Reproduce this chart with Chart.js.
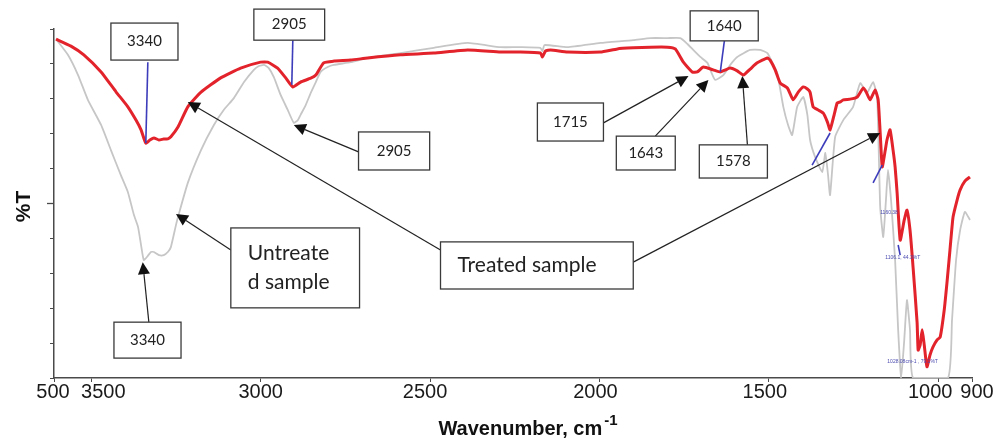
<!DOCTYPE html>
<html>
<head>
<meta charset="utf-8">
<script src="https://cdn.jsdelivr.net/npm/chart.js@4.4.1/dist/chart.umd.min.js"></script>
<style>
  html, body { margin: 0; padding: 0; background: #ffffff; }
  #wrap { width: 1000px; height: 439px; position: relative; }
</style>
</head>
<body>
<div id="wrap"><canvas id="c"></canvas></div>
<script>
// ---------------- DATA ----------------
const xTickValues = [3610, 3500, 3000, 2500, 2000, 1500, 1000, 900];
const xTickLabels = ['500', '3500', '3000', '2500', '2000', '1500', '1000', '900'];

// Treated sample (red)
const treatedWavenumber = [3604,3560,3522,3471,3427,3392,3368,3353,3339,3327,3315,3300,3286,3274,3265,3244,3215,3176,3118,3059,3000,2979,2950,2926,2905,2882,2852,2837,2814,2784,2734,2684,2587,2489,2389,2292,2233,2174,2168,2159,2144,2094,1997,1947,1900,1849,1799,1776,1752,1726,1711,1693,1664,1643,1628,1614,1593,1575,1555,1534,1504,1496,1481,1466,1445,1428,1413,1398,1386,1378,1369,1354,1339,1327,1319,1307,1298,1289,1280,1260,1239,1221,1212,1201,1186,1177,1171,1165,1156,1151,1142,1133,1127,1121,1112,1100,1092,1083,1074,1062,1059,1053,1047,1041,1033,1024,1015,1003,994,982,974,965,956,944,935,921,906];
const treatedT = [97.1,95.1,92.6,87.7,82.0,77.7,73.9,71.1,67.3,68.2,68.8,68.2,68.5,68.5,69.1,71.9,77.7,81.9,86.0,88.8,90.5,90.5,88.8,86.0,83.4,84.8,85.9,86.8,90.3,90.8,91.1,91.7,92.6,93.1,94.0,93.4,93.4,93.1,92.0,93.7,94.0,93.4,93.4,94.3,94.6,94.8,94.8,94.3,90.5,87.7,87.7,89.1,88.3,87.7,88.3,88.8,88.0,86.8,88.5,90.3,91.7,91.1,88.3,84.5,83.1,79.7,81.9,83.4,82.8,81.9,77.7,76.8,75.9,73.4,71.1,75.4,78.8,79.1,79.7,79.9,80.5,83.1,81.9,79.7,82.5,79.7,70.2,60.5,65.3,68.2,71.1,65.3,60.5,53.0,39.5,45.3,48.1,42.4,31.8,15.8,8.0,9.5,13.8,9.5,3.2,6.6,8.9,10.9,11.7,19.5,27.2,36.7,46.1,51.0,53.9,56.4,57.6];

// Untreated sample (grey)
const untreatedWavenumber = [3604,3569,3539,3510,3471,3442,3413,3392,3374,3362,3353,3345,3333,3324,3315,3300,3286,3274,3265,3250,3244,3215,3176,3138,3109,3079,3049,3020,3005,2990,2976,2961,2941,2920,2902,2890,2882,2867,2852,2837,2823,2802,2784,2734,2684,2587,2489,2389,2292,2233,2174,2168,2162,2094,1997,1900,1849,1799,1761,1740,1723,1702,1681,1670,1658,1634,1614,1593,1555,1525,1504,1490,1475,1457,1443,1431,1416,1398,1386,1378,1363,1342,1333,1325,1319,1304,1280,1251,1230,1210,1192,1180,1171,1162,1154,1148,1139,1127,1118,1109,1100,1092,1083,1074,971,959,947,935,921,906];
const untreatedT = [97.1,92.6,86.8,79.7,72.5,65.3,58.2,53.3,46.7,43.3,38.1,33.8,35.0,36.1,36.1,35.2,35.2,36.1,37.5,43.8,46.1,55.9,65.3,72.5,76.8,80.2,84.8,88.3,89.4,89.7,88.8,86.2,81.1,76.8,73.1,73.9,75.4,78.2,81.7,84.8,87.7,89.1,89.7,90.5,91.7,93.1,94.6,96.0,94.8,94.8,94.6,93.7,95.4,94.8,96.0,96.8,97.4,97.4,97.4,95.7,94.0,92.0,90.3,87.7,85.4,86.8,89.7,92.0,94.0,94.0,93.1,90.5,87.4,77.7,72.5,69.6,77.7,80.5,75.4,68.2,63.3,59.0,64.5,58.2,52.4,69.1,73.9,77.7,84.5,81.7,84.8,80.5,49.0,40.4,51.0,59.6,51.0,33.8,13.8,0,10.9,22.3,13.8,0,0,16.6,33.8,42.4,47.6,45.3];

// ---------------- ANNOTATIONS (data coordinates) ----------------
const boxes = [
  { text: ['3340'], x1: 3442, x2: 3244, y1: 101.7, y2: 91.1, size: 15, align: 'center' },
  { text: ['2905'], x1: 3020, x2: 2811, y1: 105.7, y2: 96.8, size: 15, align: 'center' },
  { text: ['2905'], x1: 2711, x2: 2501, y1: 70.5, y2: 59.6, size: 15, align: 'center' },
  { text: ['1715'], x1: 2183, x2: 1988, y1: 78.8, y2: 67.9, size: 15, align: 'center' },
  { text: ['1643'], x1: 1950, x2: 1776, y1: 69.3, y2: 59.6, size: 15, align: 'center' },
  { text: ['1578'], x1: 1705, x2: 1504, y1: 66.8, y2: 57.3, size: 15, align: 'center' },
  { text: ['1640'], x1: 1732, x2: 1531, y1: 105.2, y2: 96.6, size: 15, align: 'center' },
  { text: ['3340'], x1: 3433, x2: 3235, y1: 16.0, y2: 5.7, size: 15, align: 'center' },
  { text: ['Untreate', 'd sample'], x1: 3088, x2: 2708, y1: 43.0, y2: 20.1, size: 21, align: 'left' },
  { text: ['Treated sample'], x1: 2469, x2: 1900, y1: 39.0, y2: 25.5, size: 21, align: 'left' }
];
const arrows = [
  { from: [2711, 64.8], to: [2902, 72.5] },
  { from: [3330, 16.0], to: [3348, 33.2] },
  { from: [3088, 36.7], to: [3250, 47.0] },
  { from: [2469, 36.7], to: [3215, 79.1] },
  { from: [1900, 33.2], to: [1171, 70.2] },
  { from: [1988, 73.1], to: [1737, 86.5] },
  { from: [1835, 69.3], to: [1678, 85.4] },
  { from: [1563, 66.8], to: [1578, 86.5] }
];
const peakLines = [
  { from: [3333, 90.5], to: [3339, 67.3] },
  { from: [2905, 96.8], to: [2908, 84.0] },
  { from: [1631, 96.6], to: [1643, 87.7] },
  { from: [1372, 61.0], to: [1319, 70.2] },
  { from: [1192, 55.9], to: [1165, 61.0] },
  { from: [1118, 38.1], to: [1112, 35.2] }
];
const peakTexts = [
  { text: '1160.38', x: 1171, y: 47.5 },
  { text: '1106.1, 44.3%T', x: 1156, y: 34.4 },
  { text: '1028.08cm-1 , 79.1%T', x: 1150, y: 4.6 }
];
// horizontal nudges (px) of the x tick labels, as printed in the original figure
const xLabelNudge = [-1, 12, 0, -5, -4, -4, -8, 5];

// ---------------- PLUGIN ----------------
const annotPlugin = {
  id: 'annot',
  afterDraw(chart) {
    const { ctx, scales: { x, y }, chartArea } = chart;
    const X = v => x.getPixelForValue(v);
    const Y = v => y.getPixelForValue(v);
    ctx.save();

    // x tick labels
    ctx.fillStyle = '#1a1a1a';
    ctx.font = '20px "Liberation Sans"';
    ctx.textAlign = 'center';
    ctx.textBaseline = 'alphabetic';
    xTickValues.forEach((v, i) => {
      ctx.fillText(xTickLabels[i], X(v) + xLabelNudge[i], chartArea.bottom + 20);
    });

    // longer middle tick on y axis
    ctx.strokeStyle = '#4a4a4a';
    ctx.lineWidth = 1.3;
    ctx.beginPath();
    ctx.moveTo(chartArea.left - 7, Y(50));
    ctx.lineTo(chartArea.left, Y(50));
    ctx.stroke();

    // blue peak-pick lines
    ctx.strokeStyle = '#3d3dbb';
    ctx.lineWidth = 1.6;
    peakLines.forEach(l => {
      ctx.beginPath();
      ctx.moveTo(X(l.from[0]), Y(l.from[1]));
      ctx.lineTo(X(l.to[0]), Y(l.to[1]));
      ctx.stroke();
    });
    ctx.fillStyle = '#4a4ab0';
    ctx.font = '5px "Liberation Sans"';
    ctx.textAlign = 'left';
    ctx.textBaseline = 'middle';
    peakTexts.forEach(t => ctx.fillText(t.text, X(t.x), Y(t.y)));

    // arrows
    ctx.strokeStyle = '#222';
    ctx.fillStyle = '#111';
    ctx.lineWidth = 1.2;
    arrows.forEach(a => {
      const x0 = X(a.from[0]), y0 = Y(a.from[1]);
      const x1 = X(a.to[0]), y1 = Y(a.to[1]);
      const ang = Math.atan2(y1 - y0, x1 - x0);
      const L = 12, W = 6;
      const bx = x1 - L * Math.cos(ang), by = y1 - L * Math.sin(ang);
      ctx.beginPath();
      ctx.moveTo(x0, y0);
      ctx.lineTo(bx, by);
      ctx.stroke();
      ctx.beginPath();
      ctx.moveTo(x1, y1);
      ctx.lineTo(bx + W * Math.sin(ang), by - W * Math.cos(ang));
      ctx.lineTo(bx - W * Math.sin(ang), by + W * Math.cos(ang));
      ctx.closePath();
      ctx.fill();
    });

    // boxes
    boxes.forEach(b => {
      const l = X(b.x1), r = X(b.x2), t = Y(b.y1), bt = Y(b.y2);
      ctx.fillStyle = '#fff';
      ctx.fillRect(l, t, r - l, bt - t);
      ctx.strokeStyle = '#3a3a3a';
      ctx.lineWidth = 1.3;
      ctx.strokeRect(l, t, r - l, bt - t);
      ctx.fillStyle = '#222';
      ctx.font = b.size + 'px Lato';
      ctx.textBaseline = 'middle';
      const lh = b.size * 1.38;
      const cy = (t + bt) / 2;
      b.text.forEach((s, i) => {
        const ty = cy + (i - (b.text.length - 1) / 2) * lh;
        if (b.align === 'center') {
          ctx.textAlign = 'center';
          ctx.fillText(s, (l + r) / 2, ty);
        } else {
          ctx.textAlign = 'left';
          ctx.fillText(s, l + 17, ty);
        }
      });
    });

    // axis titles
    ctx.fillStyle = '#111';
    ctx.textAlign = 'left';
    ctx.textBaseline = 'alphabetic';
    ctx.font = 'bold 20px "Liberation Sans"';
    const main = 'Wavenumber, cm';
    const mw = ctx.measureText(main).width;
    ctx.font = 'bold 15px "Liberation Sans"';
    const sw = ctx.measureText('-1').width;
    const startX = 528 - (mw + sw + 2) / 2;
    ctx.font = 'bold 20px "Liberation Sans"';
    ctx.fillText(main, startX, 435);
    ctx.font = 'bold 15px "Liberation Sans"';
    ctx.fillText('-1', startX + mw + 2, 425);

    ctx.save();
    ctx.translate(30, (chartArea.top + chartArea.bottom) / 2 + 3);
    ctx.rotate(-Math.PI / 2);
    ctx.textAlign = 'center';
    ctx.font = 'bold 21px "Liberation Sans"';
    ctx.fillText('%T', 0, 0);
    ctx.restore();

    ctx.restore();
  }
};

// ---------------- CHART ----------------
const toPoints = (xs, ys) => xs.map((v, i) => ({ x: v, y: ys[i] }));

new Chart(document.getElementById('c'), {
  type: 'line',
  data: {
    datasets: [
      {
        label: 'Treated sample',
        data: toPoints(treatedWavenumber, treatedT),
        borderColor: '#e3232b',
        borderWidth: 3,
        pointRadius: 0,
        tension: 0.15,
        order: 0
      },
      {
        label: 'Untreated sample',
        data: toPoints(untreatedWavenumber, untreatedT),
        borderColor: '#c6c6c6',
        borderWidth: 1.8,
        pointRadius: 0,
        tension: 0.15,
        order: 1
      }
    ]
  },
  options: {
    responsive: true,
    maintainAspectRatio: false,
    animation: false,
    devicePixelRatio: 1,
    layout: { padding: { left: 0, top: 29, right: 28, bottom: 0 } },
    plugins: { legend: { display: false }, tooltip: { enabled: false } },
    scales: {
      x: {
        type: 'linear',
        reverse: true,
        min: 900,
        max: 3610,
        afterBuildTicks: s => { s.ticks = xTickValues.map(v => ({ value: v })); },
        afterFit: s => { s.height = 61; },
        ticks: { display: false, autoSkip: false },
        grid: { drawOnChartArea: false, drawTicks: true, tickLength: 4, tickColor: '#4a4a4a' },
        border: { display: true, color: '#4a4a4a', width: 1.5 }
      },
      y: {
        min: 0,
        max: 100,
        afterFit: s => { s.width = 54; },
        ticks: { stepSize: 10, display: false },
        grid: { drawOnChartArea: false, drawTicks: true, tickLength: 4, tickColor: '#4a4a4a' },
        border: { display: true, color: '#4a4a4a', width: 1.5 }
      }
    }
  },
  plugins: [annotPlugin]
});
</script>
</body>
</html>
